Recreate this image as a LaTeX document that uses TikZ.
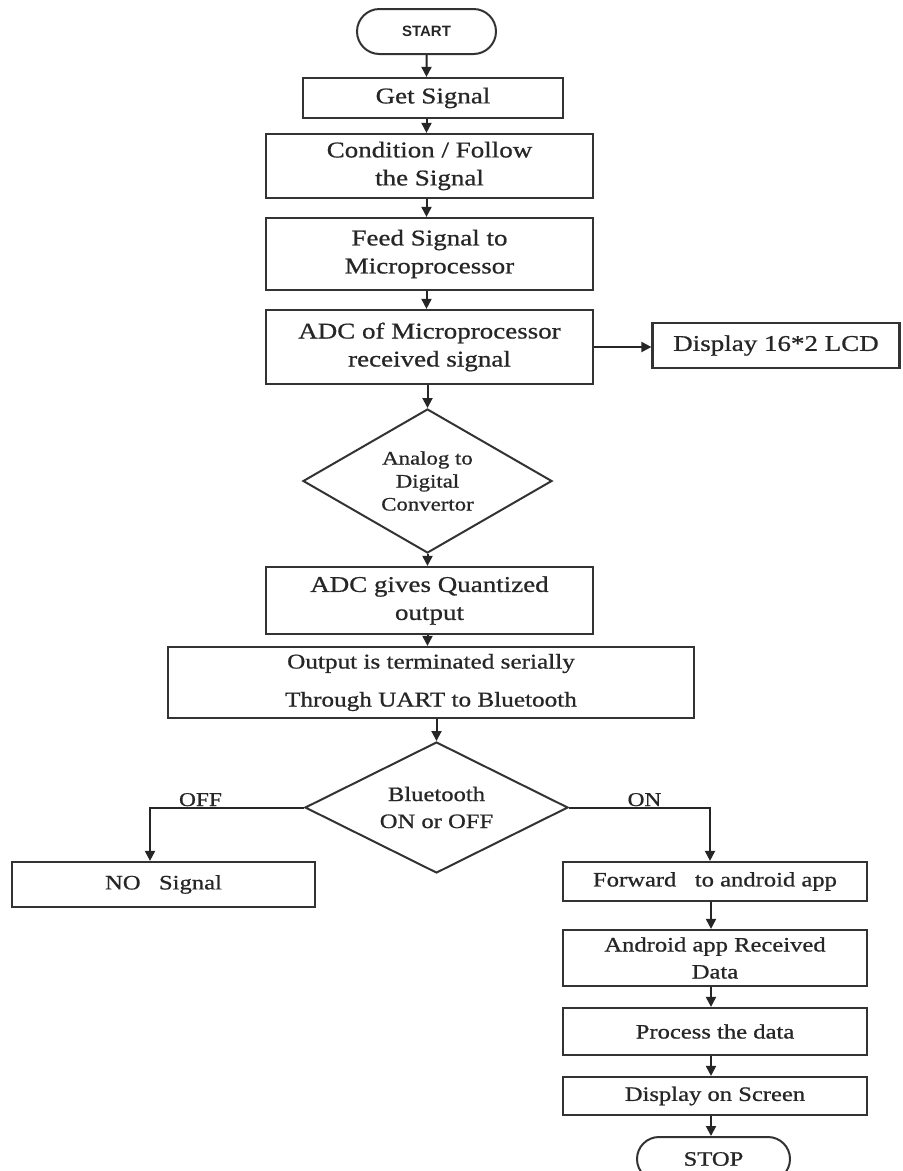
\documentclass[tikz,border=0pt]{standalone}
\usepackage{fontspec}
\setmainfont{Liberation Serif}[FakeStretch=1.2,FakeBold=0.8]
\newfontfamily\termfont{Liberation Sans}
\usetikzlibrary{shapes.geometric,shapes.misc,arrows.meta}

\begin{document}
\begin{tikzpicture}[x=1pt,y=-1pt,
  box/.style={draw=black!80,line width=2.2pt,rectangle,inner sep=0pt,align=center,text=black!85,font=\fontsize{22.5}{28}\selectfont},
  lowbox/.style={box,font=\fontsize{20.5}{27}\selectfont},
  decide/.style={draw=black!80,line width=2pt,diamond,inner sep=0pt,align=center,text=black!85},
  term/.style={draw=black!80,line width=2pt,rounded rectangle,inner sep=0pt,text=black!85},
  lbl/.style={inner sep=0pt,text=black!85,font=\fontsize{19.5}{22}\selectfont},
  arr/.style={draw=black!85,line width=2pt,-{Triangle[length=10pt,width=10pt]}}]
\useasboundingbox (0,0) rectangle (903,1171);

  \node (start) at (426.5,31.5) [term,minimum width=139pt,minimum height=45pt,font=\termfont\bfseries\fontsize{15}{18}\selectfont] {START};
  \node (getsig) at (433,98) [box,minimum width=260pt,minimum height=40pt] {Get Signal};
  \node (cond) at (429.5,166) [box,minimum width=327pt,minimum height=64pt] {Condition / Follow\\the Signal};
  \node (feed) at (429.5,254) [box,minimum width=327pt,minimum height=72pt] {Feed Signal to\\Microprocessor};
  \node (adcmp) at (429.5,347) [box,minimum width=327pt,minimum height=74pt] {ADC of Microprocessor\\received signal};
  \node (lcd) at (776,345.5) [box,minimum width=247pt,minimum height=45pt] {Display 16*2 LCD};
  \node (atod) at (427.5,481) [decide,aspect=1.73,minimum width=249pt,minimum height=144pt,font=\fontsize{19}{23}\selectfont] {Analog to\\Digital\\Convertor};
  \node (quant) at (429.5,600.5) [box,minimum width=327pt,minimum height=67pt] {ADC gives Quantized\\output};
  \node (uart) at (431,682.5) [box,minimum width=526pt,minimum height=71pt,font=\fontsize{21}{38}\selectfont] {Output is terminated serially\\Through UART to Bluetooth};
  \node (bt) at (436.5,807.5) [decide,aspect=2,minimum width=263pt,minimum height=131pt,font=\fontsize{20.5}{27}\selectfont] {Bluetooth\\ON or OFF};

  \node (nosig) at (163.5,884.5) [lowbox,minimum width=303pt,minimum height=45pt] {NO\ \ \ Signal};
  \node (fwd) at (715,881.5) [lowbox,minimum width=304pt,minimum height=39pt] {Forward\ \ \ to android app};
  \node (andr) at (715,958) [lowbox,minimum width=304pt,minimum height=56pt] {Android app Received\\Data};
  \node (proc) at (715,1031.5) [lowbox,minimum width=304pt,minimum height=47pt] {Process the data};
  \node (disp) at (715,1096) [lowbox,minimum width=304pt,minimum height=38pt] {Display on Screen};
  \node (stop) at (713.5,1159) [term,minimum width=153pt,minimum height=44pt,font=\fontsize{20.5}{24}\selectfont] {STOP};

  \node (off) at (200.5,806) [lbl,anchor=base] {OFF};
  \node (on) at (644.5,806) [lbl,anchor=base] {ON};

  \draw [arr] (start) -- (start |- getsig.north);
  \draw [arr] (getsig.south -| start) -- (start |- cond.north);
  \draw [arr] (cond.south -| start) -- (start |- feed.north);
  \draw [arr] (feed.south -| start) -- (start |- adcmp.north);
  \draw [arr] (adcmp.east) -- (adcmp.east -| lcd.west);
  \draw [arr] (adcmp.south -| atod) -- (atod.north);
  \draw [arr] (atod.south) -- (atod |- quant.north);
  \draw [arr] (quant.south -| atod) -- (atod |- uart.north);
  \draw [arr] (uart.south -| bt) -- (bt.north);
  \draw [arr] (bt.west) -| ([xshift=-13.5pt]nosig.north);
  \draw [arr] (bt.east) -| ([xshift=-5pt]fwd.north);
  \draw [arr] ([xshift=-4pt]fwd.south) -- ([xshift=-4pt]andr.north);
  \draw [arr] ([xshift=-4pt]andr.south) -- ([xshift=-4pt]proc.north);
  \draw [arr] ([xshift=-4pt]proc.south) -- ([xshift=-4pt]disp.north);
  \draw [arr] ([xshift=-4pt]disp.south) -- ([xshift=-2.5pt]stop.north);

\end{tikzpicture}
\end{document}
